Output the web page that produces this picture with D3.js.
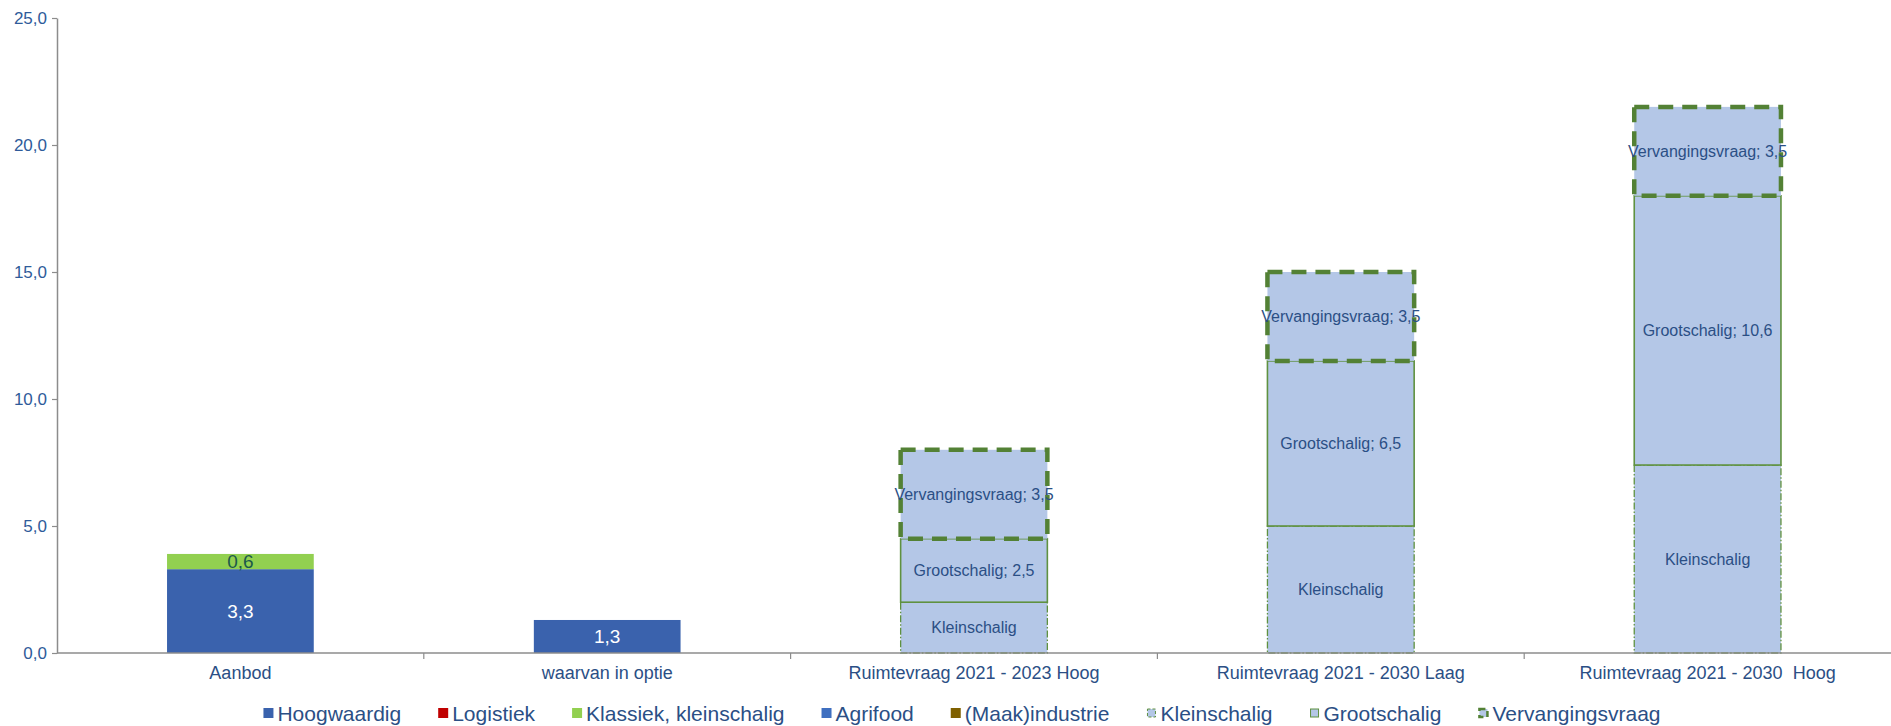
<!DOCTYPE html>
<html>
<head>
<meta charset="utf-8">
<script src="https://cdn.jsdelivr.net/npm/d3@7"></script>
<style>
  html, body { margin: 0; padding: 0; background: #fff; }
  svg { display: block; }
  text { white-space: pre; }
</style>
</head>
<body>
<svg id="chart" width="1891" height="726"></svg>
<script>
// Categories along the x axis
const categories = [
  "Aanbod",
  "waarvan in optie",
  "Ruimtevraag 2021 - 2023 Hoog",
  "Ruimtevraag 2021 - 2030 Laag",
  "Ruimtevraag 2021 - 2030  Hoog"
];

// Series values (ha), one entry per category
const hoogwaardig      = [3.3, 1.3, 0, 0, 0];
const logistiek        = [0, 0, 0, 0, 0];
const klassiek         = [0.6, 0, 0, 0, 0];
const agrifood         = [0, 0, 0, 0, 0];
const maakindustrie    = [0, 0, 0, 0, 0];
const kleinschalig     = [0, 0, 2.0, 5.0, 7.4];
const grootschalig     = [0, 0, 2.5, 6.5, 10.6];
const vervangingsvraag = [0, 0, 3.5, 3.5, 3.5];

// Y axis ticks
const yTicks = [0, 5, 10, 15, 20, 25];

const seriesNames = ["Hoogwaardig", "Logistiek", "Klassiek, kleinschalig", "Agrifood",
                     "(Maak)industrie", "Kleinschalig", "Grootschalig", "Vervangingsvraag"];
const seriesValues = [hoogwaardig, logistiek, klassiek, agrifood, maakindustrie,
                      kleinschalig, grootschalig, vervangingsvraag];

const styles = {
  "Hoogwaardig":            { fill: "#3a62ad", stroke: "none" },
  "Logistiek":              { fill: "#c00000", stroke: "none" },
  "Klassiek, kleinschalig": { fill: "#92d050", stroke: "none" },
  "Agrifood":               { fill: "#3f6fc0", stroke: "none" },
  "(Maak)industrie":        { fill: "#7f6000", stroke: "none" },
  "Kleinschalig":           { fill: "#b4c7e7", stroke: "#5f9140", width: 1.3, dash: "7,2,1.5,2" },
  "Grootschalig":           { fill: "#b4c7e7", stroke: "#5f9140", width: 1.6, dash: null },
  "Vervangingsvraag":       { fill: "#b4c7e7", stroke: "#538135", width: 4.5, dash: "15,9" }
};

const nl = d3.formatLocale({ decimal: ",", thousands: ".", grouping: [3], currency: ["€", ""] });
const fmt = nl.format(".1f");

// Build table rows for the stack
const rows = categories.map((c, i) => {
  const r = { category: c };
  seriesNames.forEach((s, j) => { r[s] = seriesValues[j][i]; });
  return r;
});
const stacked = d3.stack().keys(seriesNames)(rows);

const svg = d3.select("#chart");
const margin = { left: 57, right: 0, top: 18, bottom: 73 };
const W = 1891, H = 726;

const x = d3.scaleBand().domain(categories)
  .range([margin.left, W - margin.right]).paddingInner(0.6).paddingOuter(0.3);
const y = d3.scaleLinear().domain([0, 25]).range([H - margin.bottom, margin.top]);

const axisColor = "#8c8c8c";
const tickColor = "#2f5b9a";
const narrow = "'Liberation Sans Narrow', 'Arial Narrow', sans-serif";
const regular = "'Liberation Sans', Arial, sans-serif";

// Bars
const layer = svg.append("g");
stacked.forEach(s => {
  const st = styles[s.key];
  s.forEach((d, i) => {
    const v = d[1] - d[0];
    if (!v) return;
    const x0 = x(categories[i]), bw = x.bandwidth();
    const y0 = y(d[1]), h = y(d[0]) - y(d[1]);
    const r = layer.append("rect")
      .attr("x", x0).attr("y", y0).attr("width", bw).attr("height", h)
      .attr("fill", st.fill);
    if (st.stroke !== "none") {
      r.attr("stroke", st.stroke).attr("stroke-width", st.width);
      if (st.dash) r.attr("stroke-dasharray", st.dash);
    }
  });
});

// Bar labels
const labelLayer = svg.append("g");
stacked.forEach(s => {
  s.forEach((d, i) => {
    const v = d[1] - d[0];
    if (!v) return;
    const cx = x(categories[i]) + x.bandwidth() / 2;
    const cy = (y(d[0]) + y(d[1])) / 2;
    let txt, color, font, size;
    if (s.key === "Hoogwaardig") {
      txt = fmt(v); color = "#ffffff"; font = narrow; size = 19;
    } else if (s.key === "Klassiek, kleinschalig") {
      txt = fmt(v); color = "#1d5a4a"; font = narrow; size = 19;
    } else if (s.key === "Kleinschalig") {
      txt = "Kleinschalig"; color = "#2b4f85"; font = regular; size = 16;
    } else {
      txt = s.key + "; " + fmt(v); color = "#2b4f85"; font = regular; size = 16;
    }
    labelLayer.append("text")
      .attr("x", cx).attr("y", cy)
      .attr("text-anchor", "middle").attr("dominant-baseline", "central")
      .attr("font-family", font).attr("font-size", size)
      .attr("fill", color).text(txt);
  });
});

// Y axis
const yAxis = svg.append("g")
  .attr("transform", `translate(${margin.left},0)`)
  .call(d3.axisLeft(y).tickValues(yTicks).tickFormat(fmt).tickSize(5).tickSizeOuter(0));
yAxis.select(".domain").attr("stroke", axisColor).attr("stroke-width", 1.5);
yAxis.selectAll(".tick line").attr("stroke", axisColor).attr("stroke-width", 1.2);
yAxis.selectAll(".tick text")
  .attr("font-family", regular)
  .attr("font-size", 17).attr("fill", tickColor).attr("x", -10);

// X axis baseline with ticks at the category boundaries
const baseY = y(0);
svg.append("line")
  .attr("x1", margin.left).attr("x2", W).attr("y1", baseY).attr("y2", baseY)
  .attr("stroke", axisColor).attr("stroke-width", 1.5);
const step = x.step();
const boundaries = categories.slice(1).map(c => x(c) - step * x.paddingInner() / 2);
svg.append("g").selectAll("line").data(boundaries).join("line")
  .attr("x1", d => d).attr("x2", d => d)
  .attr("y1", baseY).attr("y2", baseY + 6)
  .attr("stroke", axisColor).attr("stroke-width", 1.2);

svg.append("g").selectAll("text").data(categories).join("text")
  .attr("x", d => x(d) + x.bandwidth() / 2)
  .attr("y", baseY + 20)
  .attr("text-anchor", "middle").attr("dominant-baseline", "central")
  .attr("font-family", narrow)
  .attr("font-size", 18).attr("fill", "#2b4f85")
  .text(d => d);

// Legend
const legend = svg.append("g");
const legendY = 713;
const gap = 37;
const items = legend.selectAll("g").data(seriesNames).join("g");
items.append("text")
  .attr("x", 14).attr("y", 0).attr("dominant-baseline", "central")
  .attr("font-family", narrow)
  .attr("font-size", 21).attr("fill", "#2b4f85")
  .text(d => d);
items.each(function(d) {
  const g = d3.select(this);
  const st = styles[d];
  const r = g.append("rect").attr("x", 0).attr("y", -5).attr("width", 10).attr("height", 10)
    .attr("fill", st.fill);
  if (st.stroke !== "none") {
    r.attr("stroke", st.stroke).attr("stroke-width", d === "Vervangingsvraag" ? 2.5 : 1)
      .attr("x", 1).attr("y", -4).attr("width", 8).attr("height", 8);
    if (d === "Kleinschalig") r.attr("stroke-dasharray", "3,2");
    if (d === "Vervangingsvraag") r.attr("stroke-dasharray", "6,4");
  }
});
let widths = [];
items.each(function() { widths.push(14 + this.querySelector("text").getComputedTextLength()); });
const total = d3.sum(widths) + gap * (widths.length - 1);
let cur = 962 - total / 2;
items.attr("transform", (d, i) => {
  const t = `translate(${cur},${legendY})`;
  cur += widths[i] + gap;
  return t;
});
</script>
</body>
</html>
